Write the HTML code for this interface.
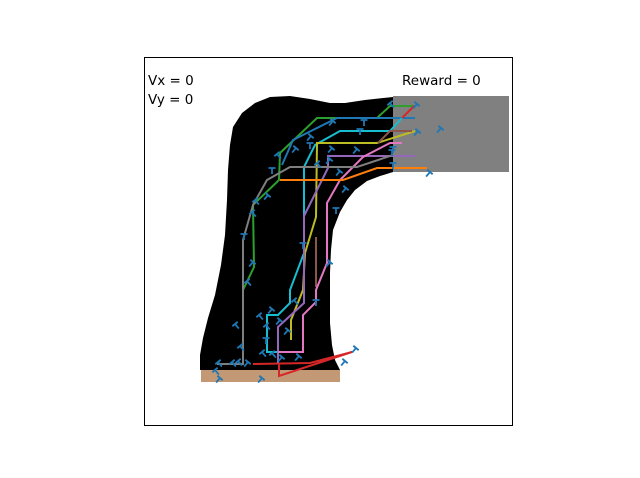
<!DOCTYPE html>
<html><head><meta charset="utf-8"><style>
html,body{margin:0;padding:0;background:#fff;}
svg{display:block;}
text{font-family:"DejaVu Sans","Liberation Sans",sans-serif;font-size:13.5px;fill:#000;}
</style></head><body>
<svg id="chart" width="640" height="478" viewBox="0 0 640 478" xmlns="http://www.w3.org/2000/svg">
  <rect x="0" y="0" width="640" height="478" fill="#fff"/>
  <path fill="#000" d="M200,370 L200,355 L203,338 L208,318 L215,295 L221,265 L225,235 L227,200 L228,170 L230,145 L233,127 L242,113 L255,103 L270,97 L290,96 L310,99 L330,103 L345,103 L365,100 L393,97 L393,172 L380,176 L367,181 L355,190 L347,200 L340,212 L333,230 L331,250 L330,273 L330,300 L330,323 L332,345 L335,360 L340,370 Z"/>
  <rect x="393" y="96" width="116" height="76" fill="#808080"/>
  <rect x="201" y="370" width="139" height="12" fill="#c39874"/>
  <g id="paths"></g>
  <g id="markers"></g>
  <rect x="144.5" y="57.5" width="368" height="368" fill="none" stroke="#000" stroke-width="1"/>
  <text x="148" y="85">Vx = 0</text>
  <text x="148" y="104">Vy = 0</text>
  <text x="402" y="85">Reward = 0</text>
</svg>
<script>
const seriesNames = ["green","blue","red-top","red-bottom","cyan","yellow","brown-top","brown-mid","purple","pink","gray","orange"];
const seriesColors = ["#2ca02c","#1f77b4","#d62728","#d62728","#17becf","#bcbd22","#8c564b","#8c564b","#9467bd","#e377c2","#7f7f7f","#ff7f0e"];
const greenPts = [[414,106],[390,106],[377,118],[317,118],[280,153],[279,180],[253,205],[254,267],[243,290]];
const bluePts = [[415,118],[337,118],[293,140],[282,165]];
const redTopPts = [[414,106],[400,120]];
const redBottomPts = [[253,364],[310,363],[352,352],[279,376],[279,364]];
const cyanPts = [[402,118],[390,131],[340,131],[315,145],[304,167],[304,253],[290,290],[290,303],[278,315],[267,315],[267,352],[278,352]];
const yellowPts = [[415,131],[377,143],[317,143],[316,217],[305,253],[303,290],[291,320],[291,340]];
const brownTopPts = [[412,131],[390,131],[378,143]];
const brownMidPts = [[316,237],[316,287]];
const purplePts = [[415,156],[328,156],[328,168],[304,216],[304,303],[278,327],[278,363]];
const pinkPts = [[402,143],[390,143],[363,157],[340,180],[327,203],[327,263],[316,290],[316,302],[303,315],[303,352],[278,352]];
const grayPts = [[393,155],[357,167],[290,167],[267,180],[253,205],[243,240],[243,364],[217,364]];
const orangePts = [[427,168],[393,168],[377,168],[343,180],[280,180]];
const allSeries = [greenPts,bluePts,redTopPts,redBottomPts,cyanPts,yellowPts,brownTopPts,brownMidPts,purplePts,pinkPts,grayPts,orangePts];
const markerPts = [[390,103,-40],[417,104,40],[418,131,40],[441,128,40],[430,172,40],[360,129,0],[364,120,0],[333,121,40],[311,136,40],[296,148,40],[277,154,-40],[272,168,0],[310,143,0],[332,148,40],[357,149,40],[392,150,0],[330,159,40],[317,163,-40],[336,208,0],[303,243,0],[330,262,40],[316,300,0],[294,300,-40],[272,309,40],[280,320,40],[288,330,40],[266,338,0],[259,315,-40],[266,325,-40],[262,352,-40],[272,353,-40],[282,357,40],[299,356,40],[235,324,-40],[240,346,-40],[238,361,-40],[248,362,40],[232,362,-40],[218,362,-40],[215,370,-40],[220,378,40],[262,378,40],[356,348,40],[345,361,40],[253,262,40],[252,212,-40],[247,281,-40],[255,200,-40],[244,234,0],[268,195,40],[346,188,40],[340,171,40],[393,147,0],[393,163,0]];
const ns = "http://www.w3.org/2000/svg";
const gPaths = document.getElementById('paths');
allSeries.forEach((pts,i)=>{
  const pl = document.createElementNS(ns,'polyline');
  pl.setAttribute('points', pts.map(p=>p[0]+','+p[1]).join(' '));
  pl.setAttribute('fill','none');
  pl.setAttribute('stroke',seriesColors[i]);
  pl.setAttribute('stroke-width','2');
  
  
  gPaths.appendChild(pl);
});
const gM = document.getElementById('markers');
markerPts.forEach((m,i)=>{
  const g = document.createElementNS(ns,'path');
  g.setAttribute('d','M-3.5,0 L3.5,0 M0,0 L0,6');
  g.setAttribute('transform','translate('+m[0]+','+m[1]+') rotate('+m[2]+')');
  g.setAttribute('stroke','#1f77b4');
  g.setAttribute('stroke-width','1.8');
  g.setAttribute('fill','none');
  
  
  gM.appendChild(g);
});
</script>
</body></html>
